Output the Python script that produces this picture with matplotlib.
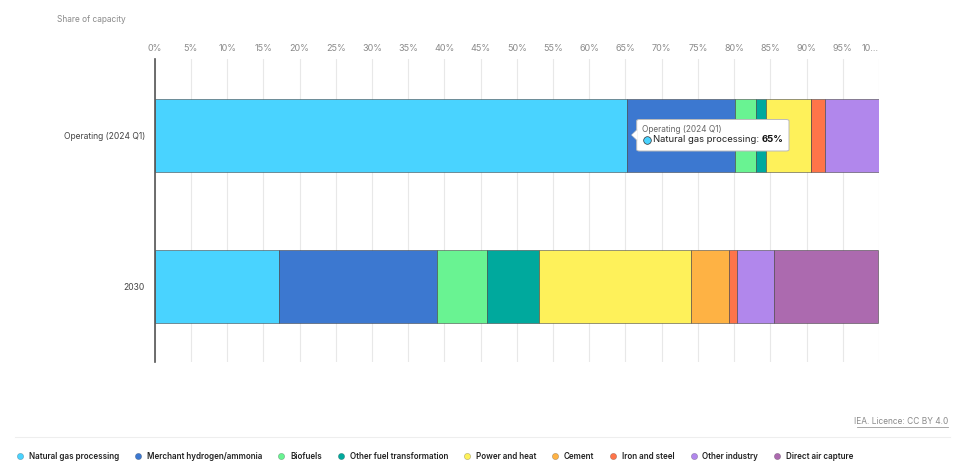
import matplotlib
matplotlib.use("Agg")
import matplotlib.pyplot as plt
from matplotlib.lines import Line2D
from matplotlib.patches import FancyBboxPatch, Polygon
import numpy as np

plt.rcParams['font.family'] = ['Inter', 'DejaVu Sans']

# ---- data ----
categories = ["Operating (2024 Q1)", "2030"]
series_names = ["Natural gas processing", "Merchant hydrogen/ammonia", "Biofuels",
                "Other fuel transformation", "Power and heat", "Cement",
                "Iron and steel", "Other industry", "Direct air capture"]
operating = [65.2, 14.9, 2.86, 1.38, 6.3, 0.0, 1.85, 7.46, 0.0]
y2030 = [17.2, 21.8, 6.9, 7.09, 21.0, 5.25, 1.16, 5.06, 14.4]
colors = ["#49D3FF", "#3C78D0", "#69F392", "#00A99D", "#FEF15A",
          "#FEB244", "#FE7449", "#B187EC", "#AC6AAF"]
tick_vals = list(range(0, 101, 5))
tick_labels = [f"{v}%" for v in tick_vals[:-1]] + ["10…"]

W, H = 960, 465
fig = plt.figure(figsize=(9.6, 4.65), dpi=100)
ax = fig.add_axes([154.7/W, 1-362/H, (879-154.7)/W, (362-59)/H])

data = np.array([operating, y2030])
ypos = np.arange(len(categories))
left = np.zeros(len(categories))
for i, name in enumerate(series_names):
    vals = data[:, i]
    ax.barh(ypos, vals, left=left, height=0.483, color=colors[i],
            edgecolor=(0.25, 0.25, 0.25, 0.55), linewidth=0.7, label=name, zorder=3)
    left += vals

ax.set_xlim(0, 100)
ax.set_ylim(1.5, -0.507)
ax.set_xticks(tick_vals)
ax.set_xticklabels(tick_labels)
ax.xaxis.tick_top()
ax.tick_params(axis='x', length=0, pad=4, labelsize=6.5, labelcolor="#8a8a8a")
ax.get_xticklabels()[-1].set_horizontalalignment('right')
ax.set_yticks(ypos)
ax.set_yticklabels(categories)
ax.tick_params(axis='y', length=0, pad=7, labelsize=6.1, labelcolor="#444444")
ax.grid(axis='x', color="#e8e8e8", linewidth=0.8, zorder=0)
for s in ['top', 'right', 'bottom']:
    ax.spines[s].set_visible(False)
ax.spines['left'].set_color("#555555")
ax.spines['left'].set_linewidth(1.2)
ax.spines['left'].set_zorder(4)

fig.text(57/W, 1-19/H, "Share of capacity", fontsize=6.0, color="#8a8a8a",
         ha='left', va='center')

# credit
fig.text(948/W, 1-421.5/H, "IEA. Licence: CC BY 4.0", fontsize=6.0, color="#8a8a8a",
         ha='right', va='center')
fig.add_artist(Line2D([857/W, 948/W], [1-426.5/H, 1-426.5/H], color="#9a9a9a",
                      linewidth=0.6))
fig.add_artist(Line2D([15/W, 950/W], [1-437/H, 1-437/H], color="#eeeeee",
                      linewidth=0.8))

# legend
handles = [Line2D([0], [0], marker='o', linestyle='none', markersize=4.5,
                  markerfacecolor=c, markeredgecolor=(0, 0, 0, 0.25), markeredgewidth=0.5)
           for c in colors]
fig.legend(handles, series_names, loc='center left', bbox_to_anchor=(17.5/W, 1-456/H),
           ncol=9, frameon=False, prop={'size': 5.8, 'weight': 'semibold'},
           handlelength=0.6, handletextpad=0.8,
           columnspacing=2.05, labelcolor="#222222", borderaxespad=0, borderpad=0)

# tooltip
bx0, bx1, by0, by1 = 636.7, 789, 119.5, 151
box = FancyBboxPatch((bx0/W, 1-by1/H), (bx1-bx0)/W, (by1-by0)/H,
                     boxstyle="round,pad=0,rounding_size=0.003",
                     transform=fig.transFigure, facecolor="white",
                     edgecolor="#bbbbbb", linewidth=0.7, zorder=10)
fig.add_artist(box)
ptr = Polygon([[bx0/W + 0.0005, 1-130/H], [(bx0-5)/W, 1-135/H], [bx0/W + 0.0005, 1-140/H]],
              closed=True, transform=fig.transFigure, facecolor="white",
              edgecolor="none", zorder=11)
fig.add_artist(ptr)
fig.add_artist(Line2D([bx0/W, (bx0-5)/W, bx0/W], [1-130/H, 1-135/H, 1-140/H],
                      color="#bbbbbb", linewidth=0.7, zorder=10.5))
fig.text(642/W, 1-129.5/H, "Operating (2024 Q1)", fontsize=6.0, color="#666666",
         ha='left', va='center', zorder=12)
fig.add_artist(Line2D([646.5/W], [1-139.5/H], marker='o', markersize=5.5,
                      markerfacecolor=colors[0], markeredgecolor="#333333",
                      markeredgewidth=0.5, zorder=12))
t1 = fig.text(653/W, 1-139.5/H, "Natural gas processing: ", fontsize=6.8, color="#222222",
              ha='left', va='center', zorder=12)
fig.canvas.draw()
bb = t1.get_window_extent()
fig.text(bb.x1/fig.bbox.width, 1-139.5/H, "65%", fontsize=6.8, color="#111111",
         fontweight='bold', ha='left', va='center', zorder=12)

fig.savefig("out.png", dpi=100)
